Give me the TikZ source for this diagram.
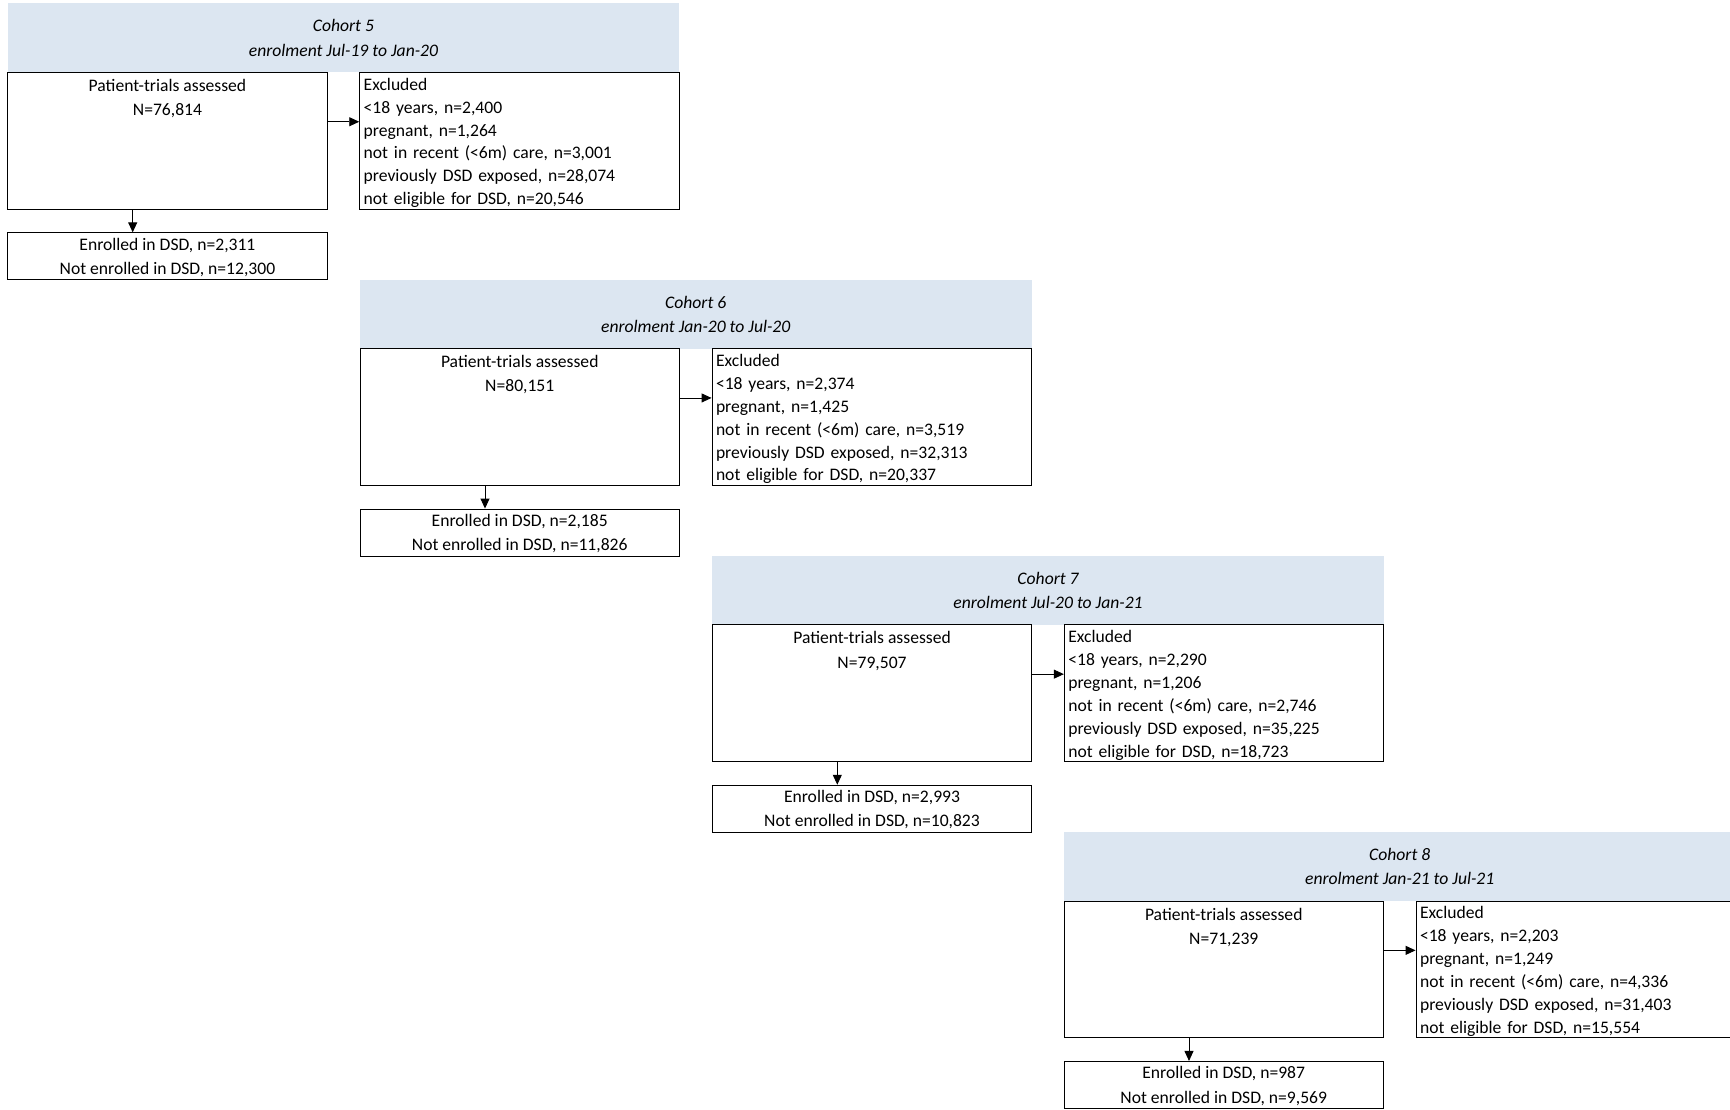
\documentclass[tikz,border=0pt]{standalone}
\usepackage{fontspec}
\setmainfont{Carlito}
\usetikzlibrary{arrows.meta}
\definecolor{cohortblue}{RGB}{220,230,241}

\begin{document}
\begin{tikzpicture}[x=1pt,y=-1pt,
	txt/.style={font=\fontsize{17.6pt}{24.3pt}\selectfont},
	header/.style={font=\fontsize{17.6pt}{24.3pt}\selectfont\itshape,fill=cohortblue,minimum width=671.5pt,minimum height=69.2pt,inner sep=0pt,text depth=-3.2pt,align=center},
	assessbox/.style={txt,draw,line width=.9pt,minimum width=319.5pt,minimum height=136.5pt,inner xsep=0pt,inner ysep=6.3pt,text depth=86.6pt,align=center},
	exclbox/.style={font=\fontsize{17.6pt}{22.9pt}\selectfont,draw,line width=.9pt,minimum width=319.5pt,minimum height=136.5pt,inner xsep=4pt,inner ysep=5.1pt,text depth=113.3pt,text width=311.5pt,align=left},
	enrolbox/.style={txt,draw,line width=.9pt,minimum width=319.5pt,minimum height=47pt,inner xsep=0pt,inner ysep=4.85pt,text depth=-2pt,align=center},
	arr/.style={-{Triangle[length=10pt,width=9pt]},line width=.9pt}]
\useasboundingbox (0,0) rectangle (1730,1110);

% cohort 5
\node[header] (h5) at (343.45,37.9) {Cohort 5\\enrolment Jul-19 to Jan-20};
\node[assessbox] (a5) at (167.45,140.75) {Patient-trials assessed\\N=76,814};
\node[exclbox] (x5) at (519.45,140.75) {Excluded\\<18 years, n=2,400\\pregnant, n=1,264\\not in recent (<6m) care, n=3,001\\previously DSD exposed, n=28,074\\not eligible for DSD, n=20,546};
\node[enrolbox] (e5) at (167.45,256.3) {Enrolled in DSD, n=2,311\\Not enrolled in DSD, n=12,300};
\draw[arr] ([yshift=19pt]a5.east) -- ([yshift=19pt]x5.west);
\draw[arr] ([xshift=-34.75pt]a5.south) -- ([xshift=-34.75pt]e5.north);

% cohort 6
\node[header] (h6) at (695.75,314.1) {Cohort 6\\enrolment Jan-20 to Jul-20};
\node[assessbox] (a6) at (519.75,416.95) {Patient-trials assessed\\N=80,151};
\node[exclbox] (x6) at (871.75,416.95) {Excluded\\<18 years, n=2,374\\pregnant, n=1,425\\not in recent (<6m) care, n=3,519\\previously DSD exposed, n=32,313\\not eligible for DSD, n=20,337};
\node[enrolbox] (e6) at (519.75,532.5) {Enrolled in DSD, n=2,185\\Not enrolled in DSD, n=11,826};
\draw[arr] ([yshift=19pt]a6.east) -- ([yshift=19pt]x6.west);
\draw[arr] ([xshift=-34.75pt]a6.south) -- ([xshift=-34.75pt]e6.north);

% cohort 7
\node[header] (h7) at (1048.05,590.3) {Cohort 7\\enrolment Jul-20 to Jan-21};
\node[assessbox] (a7) at (872.05,693.15) {Patient-trials assessed\\N=79,507};
\node[exclbox] (x7) at (1224.05,693.15) {Excluded\\<18 years, n=2,290\\pregnant, n=1,206\\not in recent (<6m) care, n=2,746\\previously DSD exposed, n=35,225\\not eligible for DSD, n=18,723};
\node[enrolbox] (e7) at (872.05,808.7) {Enrolled in DSD, n=2,993\\Not enrolled in DSD, n=10,823};
\draw[arr] ([yshift=19pt]a7.east) -- ([yshift=19pt]x7.west);
\draw[arr] ([xshift=-34.75pt]a7.south) -- ([xshift=-34.75pt]e7.north);

% cohort 8
\node[header] (h8) at (1399.75,866.5) {Cohort 8\\enrolment Jan-21 to Jul-21};
\node[assessbox] (a8) at (1223.75,969.35) {Patient-trials assessed\\N=71,239};
\node[exclbox] (x8) at (1575.75,969.35) {Excluded\\<18 years, n=2,203\\pregnant, n=1,249\\not in recent (<6m) care, n=4,336\\previously DSD exposed, n=31,403\\not eligible for DSD, n=15,554};
\node[enrolbox] (e8) at (1223.75,1084.9) {Enrolled in DSD, n=987\\Not enrolled in DSD, n=9,569};
\draw[arr] ([yshift=19pt]a8.east) -- ([yshift=19pt]x8.west);
\draw[arr] ([xshift=-34.75pt]a8.south) -- ([xshift=-34.75pt]e8.north);
\end{tikzpicture}
\end{document}
